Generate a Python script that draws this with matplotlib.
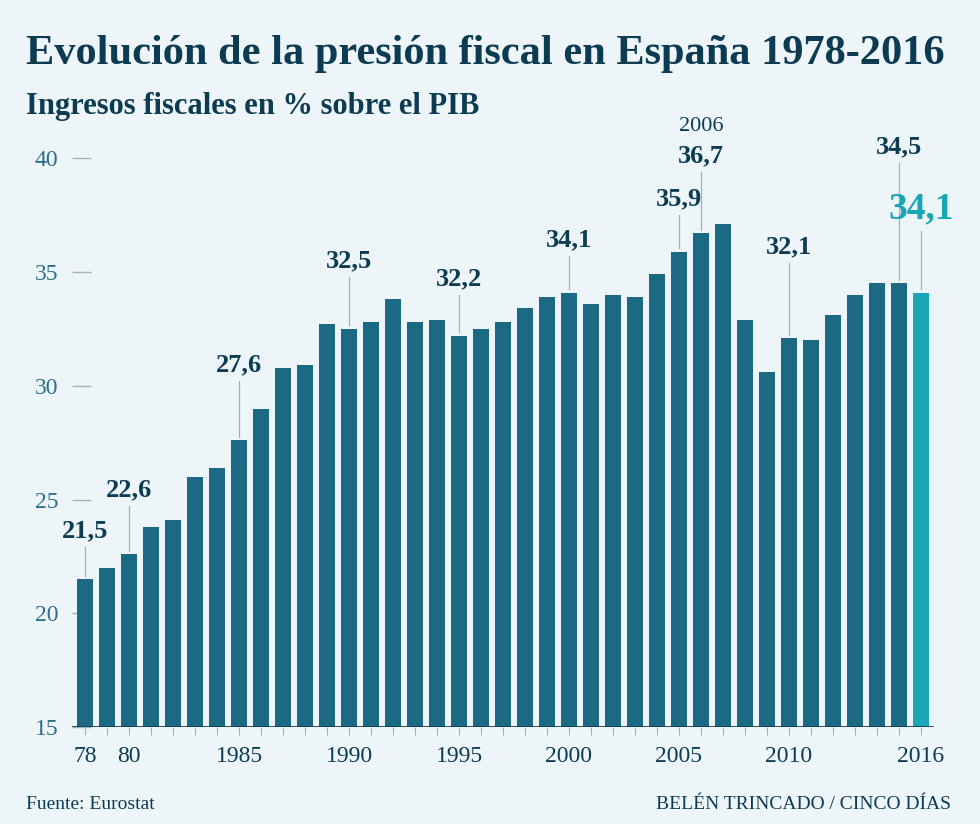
import matplotlib
matplotlib.use("Agg")
import matplotlib.pyplot as plt

years = list(range(1978, 2017))
values = [21.5, 22.0, 22.6, 23.8, 24.1, 26.0, 26.4, 27.6, 29.0, 30.8, 30.9, 32.7,
          32.5, 32.8, 33.8, 32.8, 32.9, 32.2, 32.5, 32.8, 33.4, 33.9, 34.1, 33.6,
          34.0, 33.9, 34.9, 35.9, 36.7, 37.1, 32.9, 30.6, 32.1, 32.0, 33.1, 34.0,
          34.5, 34.5, 34.1]
label_years = [1978, 1980, 1985, 1990, 1995, 2000, 2005, 2006, 2010, 2015, 2016]
label_heights = [23.1, 24.9, 30.4, 35.0, 34.2, 35.9, 37.7, 39.6, 35.6, 40.0, 37.0]
xtick_years = [1978, 1980, 1985, 1990, 1995, 2000, 2005, 2010, 2016]
xtick_labels = ["78", "80", "1985", "1990", "1995", "2000", "2005", "2010", "2016"]

BG = "#edf5f9"
DARK = "#0d3b52"
BAR = "#1b6983"
HL = "#1aa6b7"
GREY = "#9fb3bd"
SERIF = ["Liberation Serif", "DejaVu Serif"]

fig = plt.figure(figsize=(9.8, 8.24), dpi=100, facecolor=BG)
ax = fig.add_axes([0.0735, 0.1177, 0.8795, 0.704], facecolor=BG)

colors = [BAR] * (len(years) - 1) + [HL]
ax.bar(years, values, width=0.72, color=colors, zorder=2)
ax.set_xlim(1977.4, 2016.6)
ax.set_ylim(15, 40.5)
for s in ax.spines.values():
    s.set_visible(False)
ax.axhline(15, color=DARK, lw=1.2, zorder=3)

ax.set_yticks([15, 20, 25, 30, 35, 40])
ax.tick_params(axis="y", direction="in", length=14, width=1, color=GREY,
               pad=10, labelsize=17, labelcolor="#2a6f8a")
ax.set_xticks(years, minor=True)
ax.set_xticks(xtick_years)
ax.set_xticklabels(xtick_labels)
ax.tick_params(axis="x", which="both", length=6, width=0.8, color=GREY,
               labelsize=17, labelcolor=DARK, pad=8)
for t in ax.get_xticklabels() + ax.get_yticklabels():
    t.set_family(SERIF)

for y, h in zip(label_years, label_heights):
    v = values[years.index(y)]
    if y == 2016:
        ax.text(y, h, "34,1", ha="center", va="bottom", fontsize=27,
                fontweight="bold", color=HL, family=SERIF)
    else:
        ax.text(y, h, f"{v:.1f}".replace(".", ","), ha="center", va="bottom",
                fontsize=19, fontweight="bold", color=DARK, family=SERIF)
    ax.plot([y, y], [v + 0.15, h - 0.2], color=GREY, lw=0.9, zorder=1)
ax.text(2006, 41.0, "2006", ha="center", va="bottom", fontsize=16,
        color=DARK, family=SERIF, clip_on=False)

fig.text(0.027, 0.922, "Evolución de la presión fiscal en España 1978-2016",
         fontsize=30.5, fontweight="bold", color=DARK, family=SERIF)
fig.text(0.027, 0.862, "Ingresos fiscales en % sobre el PIB",
         fontsize=22, fontweight="bold", color=DARK, family=SERIF)
fig.text(0.027, 0.018, "Fuente: Eurostat", fontsize=14, color=DARK, family=SERIF)
fig.text(0.97, 0.018, "BELÉN TRINCADO / CINCO DÍAS", fontsize=14, color=DARK,
         family=SERIF, ha="right")

fig.savefig("out.png", dpi=100, facecolor=BG)
